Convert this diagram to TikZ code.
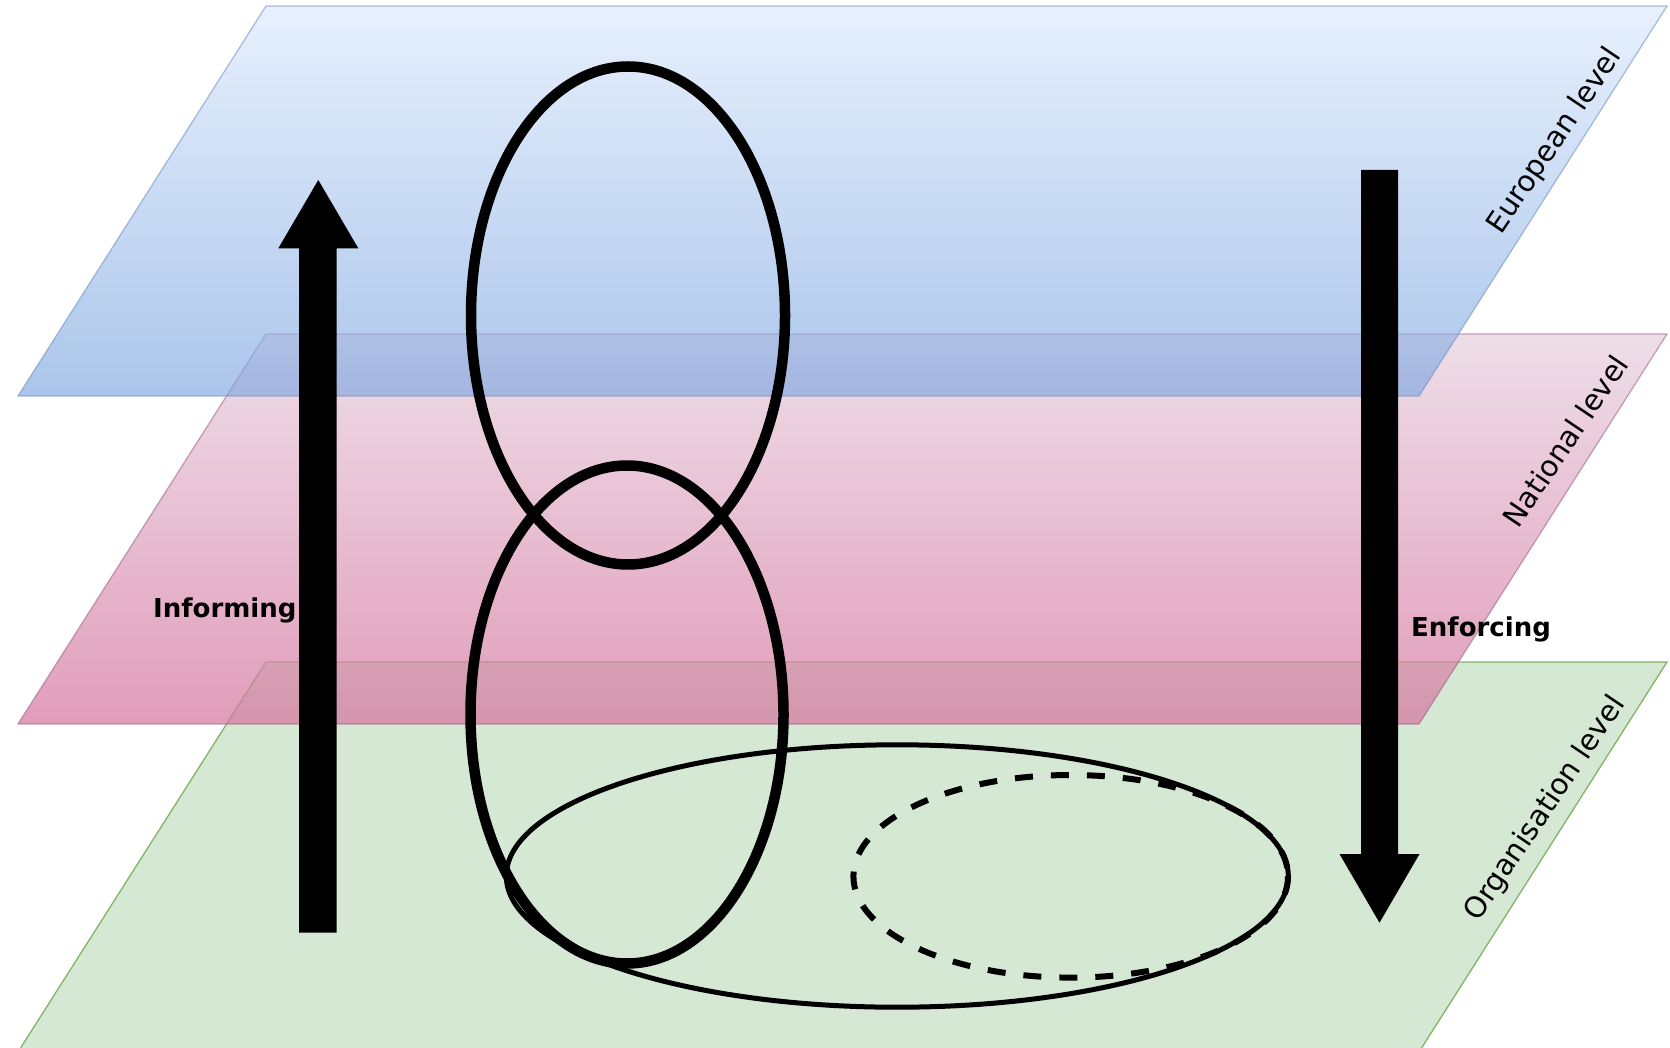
\documentclass[tikz,border=0pt]{standalone}
\usepackage{fontspec}
\setmainfont{DejaVu Sans}
\definecolor{bluetop}{HTML}{DAE8FC}
\definecolor{bluebot}{HTML}{7EA6E0}
\definecolor{bluestroke}{HTML}{6C8EBF}
\definecolor{pinktop}{HTML}{E6D0DE}
\definecolor{pinkbot}{HTML}{D5739D}
\definecolor{pinkstroke}{HTML}{996185}
\definecolor{greenfill}{HTML}{D5E8D4}
\definecolor{greenstroke}{HTML}{82B366}
\tikzset{
  boldlabel/.style={anchor=base west, inner sep=0pt, font=\bfseries\fontsize{26}{31}\selectfont},
  levellabel/.style={rotate=56, inner sep=0pt, font=\fontsize{29}{34}\selectfont},
  thickring/.style={line width=10.5pt, draw=black},
  flatring/.style={line width=5pt, draw=black},
  dashring/.style={line width=6pt, draw=black, dash pattern=on 18pt off 18pt},
  bigarrow/.style={fill=black}
}
\begin{document}
\begin{tikzpicture}[x=1pt,y=-1pt]
\useasboundingbox (0,0) rectangle (1670,1048);
\begin{scope}
\clip (0,0) rectangle (1670,1048);
% Organisation level plane
\fill[greenfill] (266,662) -- (1667,662) -- (1419,1052) -- (18,1052) -- cycle;
\draw[greenstroke, line width=1.3pt] (266,662) -- (1667,662) -- (1419,1052) -- (18,1052) -- cycle;
% National level plane
\shade[top color=pinktop, bottom color=pinkbot, fill opacity=0.7] (266,334) -- (1667,334) -- (1419,724) -- (18,724) -- cycle;
\draw[pinkstroke, draw opacity=0.55, line width=1.3pt] (266,334) -- (1667,334) -- (1419,724) -- (18,724) -- cycle;
% European level plane
\shade[top color=bluetop, bottom color=bluebot, fill opacity=0.65] (266,6) -- (1667,6) -- (1419,396) -- (18,396) -- cycle;
\draw[bluestroke, draw opacity=0.55, line width=1.3pt] (266,6) -- (1667,6) -- (1419,396) -- (18,396) -- cycle;
\end{scope}

% rings
\draw[thickring] (628,315.5) ellipse [x radius=157, y radius=249];
\draw[thickring] (627,714.5) ellipse [x radius=156.5, y radius=249];
\draw[flatring] (897.3,876) ellipse [x radius=391, y radius=131.2];
\draw[dashring] (1070.7,876.3) ellipse [x radius=217.3, y radius=101.3];

% arrows
\fill[bigarrow] (299,932.7) -- (299,248.3) -- (278.3,248.3) -- (318.3,180) -- (358.3,248.3) -- (336.7,248.3) -- (336.7,932.7) -- cycle;
\fill[bigarrow] (1361,170) -- (1398,170) -- (1398,854) -- (1419.5,854) -- (1379.5,922.7) -- (1339.5,854) -- (1361,854) -- cycle;

% labels
\node[boldlabel] (inf) at (153,617.3) {Informing};
\node[boldlabel] (enf) at (1411,636) {Enforcing};
\node[levellabel] (eu) at (1555,141) {European level};
\node[levellabel] (nat) at (1565.3,440.8) {National level};
\node[levellabel] (org) at (1545.5,808.8) {Organisation level};
\end{tikzpicture}
\end{document}
